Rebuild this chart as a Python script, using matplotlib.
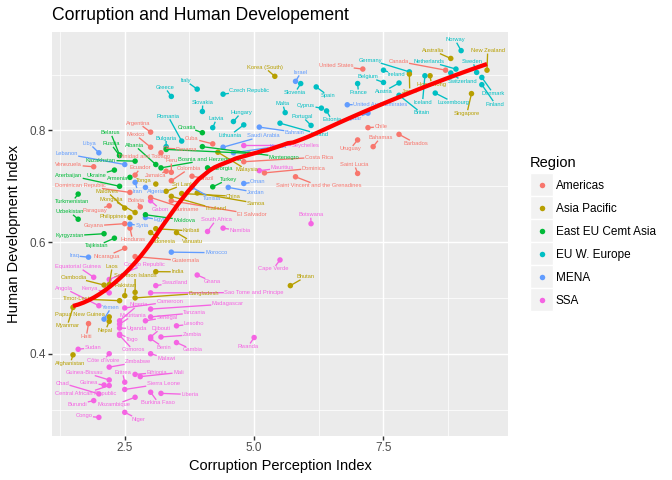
import numpy as np
import matplotlib
matplotlib.use("Agg")
import matplotlib.pyplot as plt
from matplotlib.patches import Rectangle

plt.rcParams['font.family'] = ['Liberation Sans', 'DejaVu Sans']

# ---------------- data ----------------
countries = [
    "Afghanistan", "Albania", "Algeria", "Angola", "Argentina", "Armenia", "Australia", "Austria",
    "Azerbaijan", "Bahamas", "Bahrain", "Bangladesh", "Barbados", "Belarus", "Belgium", "Benin",
    "Bhutan", "Bolivia", "Bosnia and Herzegovina", "Botswana", "Brazil", "Britain", "Bulgaria",
    "Burkina Faso", "Burundi", "Cambodia", "Cameroon", "Canada", "Cape Verde",
    "Central African Republic", "Chad", "Chile", "China", "Colombia", "Comoros", "Congo",
    "Congo Republic", "Costa Rica", "Côte d'Ivoire", "Croatia", "Cuba", "Cyprus", "Czech Republic",
    "Denmark", "Djibouti", "Dominica", "Dominican Republic", "Ecuador", "Egypt", "El Salvador",
    "Equatorial Guinea", "Eritrea", "Estonia", "Ethiopia", "Finland", "France", "Gabon", "Gambia",
    "Georgia", "Germany", "Ghana", "Greece", "Guatemala", "Guinea", "Guinea-Bissau", "Guyana",
    "Haiti", "Honduras", "Hong Kong", "Hungary", "Iceland", "India", "Indonesia", "Iran", "Iraq",
    "Ireland", "Israel", "Italy", "Jamaica", "Japan", "Jordan", "Kazakhstan", "Kenya", "Kiribati",
    "Korea (South)", "Kuwait", "Kyrgyzstan", "Laos", "Latvia", "Lebanon", "Lesotho", "Liberia",
    "Libya", "Lithuania", "Luxembourg", "Madagascar", "Malawi", "Malaysia", "Maldives", "Mali",
    "Malta", "Mauritania", "Mauritius", "Mexico", "Moldova", "Mongolia", "Montenegro", "Morocco",
    "Mozambique", "Myanmar", "Namibia", "Nepal", "Netherlands", "New Zealand", "Nicaragua", "Niger",
    "Nigeria", "Norway", "Oman", "Pakistan", "Panama", "Papua New Guinea", "Paraguay", "Peru",
    "Philippines", "Poland", "Portugal", "Qatar", "Romania", "Russia", "Rwanda", "Samoa",
    "Sao Tome and Principe", "Saudi Arabia", "Senegal", "Serbia", "Seychelles", "Sierra Leone",
    "Singapore", "Slovakia", "Slovenia", "Solomon Islands", "South Africa", "Spain", "Sri Lanka",
    "Saint Lucia", "Saint Vincent and the Grenadines", "Sudan", "Suriname", "Swaziland", "Sweden",
    "Switzerland", "Syria", "Tajikistan", "Tanzania", "Thailand", "Timor-Leste", "Togo", "Tonga",
    "Trinidad and Tobago", "Tunisia", "Turkey", "Turkmenistan", "Uganda", "Ukraine",
    "United Arab Emirates", "United States", "Uruguay", "Uzbekistan", "Vanuatu", "Venezuela",
    "Yemen", "Zambia", "Zimbabwe",
]
hdi = [
    0.398, 0.739, 0.698, 0.486, 0.797, 0.716, 0.929, 0.885,
    0.700, 0.771, 0.806, 0.500, 0.793, 0.756, 0.886, 0.427,
    0.522, 0.663, 0.733, 0.633, 0.718, 0.863, 0.771,
    0.331, 0.316, 0.523, 0.482, 0.908, 0.568,
    0.343, 0.328, 0.805, 0.687, 0.710, 0.433, 0.286,
    0.533, 0.744, 0.400, 0.796, 0.776, 0.840, 0.865,
    0.895, 0.430, 0.724, 0.689, 0.720, 0.644, 0.674,
    0.537, 0.349, 0.835, 0.363, 0.882, 0.884, 0.674, 0.420,
    0.733, 0.905, 0.541, 0.861, 0.574, 0.344, 0.353, 0.633,
    0.454, 0.625, 0.898, 0.816, 0.898, 0.547, 0.617, 0.707, 0.573,
    0.908, 0.888, 0.874, 0.727, 0.901, 0.698, 0.745, 0.509, 0.624,
    0.897, 0.760, 0.615, 0.524, 0.805, 0.739, 0.450, 0.329,
    0.760, 0.810, 0.867, 0.480, 0.400, 0.761, 0.661, 0.359,
    0.832, 0.453, 0.728, 0.770, 0.649, 0.653, 0.771, 0.582,
    0.322, 0.483, 0.625, 0.458, 0.910, 0.908, 0.589, 0.295,
    0.459, 0.943, 0.705, 0.504, 0.768, 0.466, 0.665, 0.725,
    0.644, 0.813, 0.809, 0.831, 0.781, 0.755, 0.429, 0.688,
    0.509, 0.770, 0.459, 0.766, 0.773, 0.336,
    0.866, 0.834, 0.884, 0.510, 0.619, 0.878, 0.691,
    0.723, 0.717, 0.408, 0.680, 0.522, 0.904,
    0.903, 0.632, 0.607, 0.466, 0.682, 0.495, 0.435, 0.704,
    0.760, 0.698, 0.699, 0.686, 0.446, 0.729,
    0.846, 0.910, 0.783, 0.641, 0.617, 0.735,
    0.462, 0.430, 0.376,
]
cpi = [
    1.5, 3.1, 2.9, 2.0, 3.0, 2.6, 8.8, 7.8,
    2.4, 7.3, 5.1, 2.7, 7.8, 2.4, 7.5, 3.0,
    5.7, 2.8, 3.2, 6.1, 3.8, 7.8, 3.3,
    3.0, 1.9, 2.1, 2.5, 8.7, 5.5,
    2.2, 2.0, 7.2, 3.6, 3.4, 2.4, 2.0,
    2.2, 4.8, 2.2, 4.0, 4.2, 6.3, 4.4,
    9.4, 3.0, 5.2, 2.6, 2.7, 2.9, 3.4,
    1.9, 2.5, 6.4, 2.7, 9.4, 7.0, 3.0, 3.5,
    4.1, 8.0, 3.9, 3.4, 2.7, 2.1, 2.2, 2.5,
    1.8, 2.6, 8.4, 4.6, 8.3, 3.1, 3.0, 2.7, 1.8,
    7.5, 5.8, 3.9, 3.3, 8.0, 4.5, 2.7, 2.2, 3.1,
    5.4, 4.6, 2.1, 2.2, 4.2, 2.5, 3.5, 3.2,
    2.0, 4.8, 8.5, 3.0, 3.0, 4.3, 2.5, 2.8,
    5.6, 2.4, 5.1, 3.0, 2.9, 2.7, 4.0, 3.4,
    2.7, 1.5, 4.4, 2.2, 8.9, 9.5, 2.5, 2.5,
    2.4, 9.0, 4.8, 2.5, 3.3, 2.2, 2.2, 3.4,
    2.6, 5.5, 6.1, 7.2, 3.6, 2.4, 5.0, 3.9,
    3.0, 4.4, 2.9, 3.3, 4.8, 2.5,
    9.2, 4.0, 5.9, 2.7, 4.1, 6.2, 3.3,
    7.0, 5.8, 1.6, 3.0, 3.1, 9.3,
    8.8, 2.6, 2.3, 3.0, 3.4, 2.4, 2.4, 3.1,
    3.2, 3.8, 4.2, 1.6, 2.4, 2.3,
    6.8, 7.1, 7.0, 1.6, 3.5, 1.9,
    2.1, 3.2, 2.2,
]
# A=Americas P=Asia Pacific E=East EU Cemt Asia W=EU W. Europe M=MENA S=SSA
region = list(
    "PEMSAEPW"
    "EAMPAEWS"
    "PAESAWW"
    "SSPSAS"
    "SSAPASS"
    "SASEAWW"
    "WSAAAMA"
    "SSWSWWSS"
    "EWSWASSA"
    "AAPWWPPMM"
    "WMWAPMESP"
    "PMEPWMSS"
    "MWWSSPPS"
    "WSSAEPEM"
    "SPSPWPAS"
    "SWMPAPAA"
    "PWWMWESP"
    "SMSESS"
    "PWWPSWP"
    "AASASW"
    "WMESPPSP"
    "AMEESE"
    "MAAEPA"
    "MSS"
)

region_names = ["Americas", "Asia Pacific", "East EU Cemt Asia", "EU W. Europe", "MENA", "SSA"]
region_keys = ["A", "P", "E", "W", "M", "S"]
region_colors = ["#F8766D", "#B79F00", "#00BA38", "#00BFC4", "#619CFF", "#F564E3"]

title = "Corruption and Human Developement"
x_title = "Corruption Perception Index"
y_title = "Human Development Index"
x_ticks = [2.5, 5.0, 7.5]
x_ticklabels = ["2.5", "5.0", "7.5"]
y_ticks = [0.4, 0.6, 0.8]
y_ticklabels = ["0.4", "0.6", "0.8"]

# ---------------- figure ----------------
W_PX, H_PX = 672, 480
DPI = 96
fig = plt.figure(figsize=(W_PX / DPI, H_PX / DPI), dpi=DPI)

pl, pr, pt, pb = 52.3, 507.7, 32.3, 435.7
ax = fig.add_axes([pl / W_PX, 1 - pb / H_PX, (pr - pl) / W_PX, (pb - pt) / H_PX])
ax.set_facecolor("#EBEBEB")
for s in ax.spines.values():
    s.set_visible(False)

x = np.array(cpi, dtype=float)
y = np.array(hdi, dtype=float)
col_map = dict(zip(region_keys, region_colors))
cols = [col_map[r] for r in region]

xr = x.max() - x.min()
yr = y.max() - y.min()
ax.set_xlim(x.min() - 0.05 * xr, x.max() + 0.05 * xr)
ax.set_ylim(y.min() - 0.05 * yr, y.max() + 0.05 * yr)

ax.set_xticks(x_ticks)
ax.set_xticklabels(x_ticklabels)
ax.set_yticks(y_ticks)
ax.set_yticklabels(y_ticklabels)
ax.set_xticks([1.25, 3.75, 6.25, 8.75], minor=True)
ax.set_yticks([0.3, 0.5, 0.7, 0.9], minor=True)
ax.grid(which="major", color="white", linewidth=1.07)
ax.grid(which="minor", color="white", linewidth=0.53)
ax.set_axisbelow(True)
ax.tick_params(which="major", length=2.75, width=1.07, color="#333333",
               labelsize=8.8, labelcolor="#4D4D4D", pad=2.2)
ax.tick_params(which="minor", length=0)

# points
ax.scatter(x, y, s=17, c=cols, linewidths=0, zorder=3)

# ---------------- loess smoother (span 0.75, degree 2) ----------------
def loess(xv, yv, xg, span=0.75):
    n = len(xv)
    q = int(np.floor(n * span))
    out = []
    for x0 in xg:
        d = np.abs(xv - x0)
        h = np.sort(d)[q - 1]
        w = np.clip(1 - (d / h) ** 3, 0, None) ** 3
        X = np.column_stack([np.ones(n), xv - x0, (xv - x0) ** 2])
        sw = np.sqrt(w)
        beta = np.linalg.lstsq(X * sw[:, None], yv * sw, rcond=None)[0]
        out.append(beta[0])
    return np.array(out)

xg = np.linspace(x.min(), x.max(), 80)
yg = loess(x, y, xg)

# ---------------- repelled labels ----------------
LABEL_FS = 4.27
fig.canvas.draw()
renderer = fig.canvas.get_renderer()
P = ax.transData.transform(np.column_stack([x, y]))
tw, th = [], []
for name in countries:
    t = ax.text(0.5, 0.5, name, fontsize=LABEL_FS, transform=ax.transAxes)
    bb = t.get_window_extent(renderer=renderer)
    tw.append(bb.width)
    th.append(bb.height)
    t.remove()
tw = np.array(tw)
th = np.array(th)
axbb = ax.get_window_extent(renderer=renderer)


def repel(P, tw, th, bb, iters=2500, pad=3.0, rpt=3.5, k=0.003):
    n = len(P)
    hw = tw / 2 + pad
    hh = th / 2 + pad
    ang = np.arange(n) * 2.399963
    C = P + np.column_stack([np.cos(ang), np.sin(ang)]) * 0.5
    eye = np.eye(n, dtype=bool)
    for it in range(iters):
        dx = C[:, 0, None] - C[None, :, 0]
        dy = C[:, 1, None] - C[None, :, 1]
        ox = hw[:, None] + hw[None, :] - np.abs(dx)
        oy = hh[:, None] + hh[None, :] - np.abs(dy)
        ov = (ox > 0) & (oy > 0) & ~eye
        dist = np.hypot(dx, dy) + 1e-6
        mag = np.where(ov, np.minimum(ox, oy), 0.0) * 0.5
        Dx = (mag * dx / dist).sum(1)
        Dy = (mag * dy / dist).sum(1)
        ex = C[:, 0, None] - P[None, :, 0]
        ey = C[:, 1, None] - P[None, :, 1]
        qx = hw[:, None] + rpt - np.abs(ex)
        qy = hh[:, None] + rpt - np.abs(ey)
        ovp = (qx > 0) & (qy > 0)
        dp = np.hypot(ex, ey) + 1e-6
        magp = np.where(ovp, np.minimum(qx, qy), 0.0) * 0.5
        Dx += (magp * ex / dp).sum(1)
        Dy += (magp * ey / dp).sum(1)
        Dx -= k * (C[:, 0] - P[:, 0])
        Dy -= k * (C[:, 1] - P[:, 1])
        step = np.hypot(Dx, Dy)
        f = np.where(step > 2.0, 2.0 / np.maximum(step, 1e-9), 1.0)
        C[:, 0] += Dx * f
        C[:, 1] += Dy * f
        C[:, 0] = np.clip(C[:, 0], bb.x0 + hw, bb.x1 - hw)
        C[:, 1] = np.clip(C[:, 1], bb.y0 + hh, bb.y1 - hh)
    return C


C = repel(P, tw, th, axbb)
inv = ax.transData.inverted()
Cd = inv.transform(C)

for i, name in enumerate(countries):
    vx, vy = P[i, 0] - C[i, 0], P[i, 1] - C[i, 1]
    sx = (tw[i] / 2 + 0.5) / abs(vx) if abs(vx) > 1e-9 else np.inf
    sy = (th[i] / 2 + 0.5) / abs(vy) if abs(vy) > 1e-9 else np.inf
    s = min(sx, sy)
    if s < 1:
        E = np.array([C[i, 0] + s * vx, C[i, 1] + s * vy])
        L = np.hypot(P[i, 0] - E[0], P[i, 1] - E[1])
        if L > 4.0:
            seg = inv.transform(np.array([P[i], E]))
            ax.plot(seg[:, 0], seg[:, 1], color=cols[i], linewidth=1.0,
                    solid_capstyle="butt", zorder=4)
    ax.text(Cd[i, 0], Cd[i, 1], name, fontsize=LABEL_FS, color=cols[i],
            ha="center", va="center", zorder=5)

ax.plot(xg, yg, color="red", linewidth=3.2, zorder=6, solid_capstyle="butt")

# ---------------- texts & legend (pixel overlay) ----------------
ov = fig.add_axes([0, 0, 1, 1])
ov.set_xlim(0, W_PX)
ov.set_ylim(H_PX, 0)
ov.axis("off")

ov.text(pl, 20, title, fontsize=13.2, ha="left", va="baseline", color="black")
ov.text((pl + pr) / 2, 470, x_title, fontsize=11, ha="center", va="baseline")
ov.text(17.8, (pt + pb) / 2, y_title, fontsize=11, ha="center", va="baseline",
        rotation=90, rotation_mode="anchor")

ov.text(530, 167, "Region", fontsize=11, ha="left", va="baseline")
cell = 23.0
y0 = 173.3
for i, (nm, c) in enumerate(zip(region_names, region_colors)):
    top = y0 + i * cell
    ov.add_patch(Rectangle((530, top), cell, cell, facecolor="#F2F2F2",
                           edgecolor="white", linewidth=1.0))
    ov.scatter([530 + cell / 2], [top + cell / 2], s=17, c=c, linewidths=0)
    ov.text(556, top + cell / 2 + 3.8, nm, fontsize=8.8, ha="left", va="baseline")

fig.savefig("out.png", dpi=DPI)
